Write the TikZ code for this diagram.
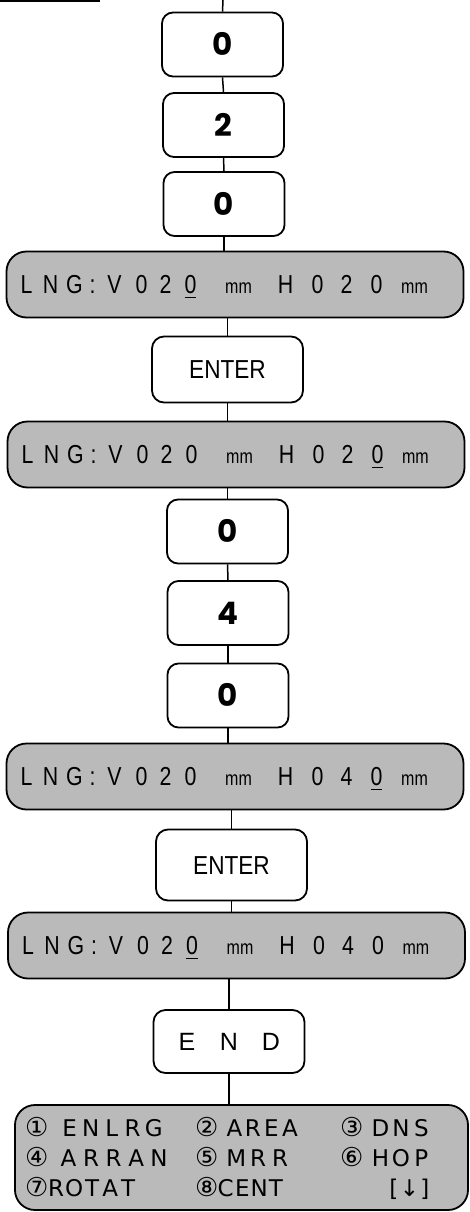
\documentclass[tikz,border=0pt]{standalone}
\usepackage{fontspec}
\setmainfont{Liberation Sans}
\newfontfamily\dejavu{DejaVu Sans}
\newfontfamily\pop{Poppins}
\definecolor{stip}{gray}{0.73}
\newsavebox\ubox
\newcommand\cc[1]{\makebox[0pt]{\scalebox{0.82}[1]{#1}}}
\newcommand\uu[1]{\sbox\ubox{#1}\usebox\ubox\llap{\rule[-4.5pt]{\wd\ubox}{1.6pt}}}
\newcommand\smm{\makebox[0pt]{\scalebox{0.8}[1]{\fontsize{20}{20}\selectfont mm}}}
\newcommand\lngline[6]{\makebox[457pt][l]{\hspace{20pt}\cc{L}\hspace{24pt}\cc{N}\hspace{24pt}\cc{G}\hspace{18pt}\cc{:}\hspace{22pt}\cc{V}\hspace{27pt}\cc{#1}\hspace{24pt}\cc{#2}\hspace{25pt}\cc{#3}\hspace{48pt}\smm\hspace{47pt}\cc{H}\hspace{32pt}\cc{#4}\hspace{29pt}\cc{#5}\hspace{30pt}\cc{#6}\hspace{38pt}\smm}}
\newcommand\spaced[2]{\def\spw{#1}\spacedi#2\relax}
\def\spacedi#1{\ifx#1\relax\else\makebox[\spw pt]{#1}\expandafter\spacedi\fi}
\begin{document}
\begin{tikzpicture}[x=1pt,y=-1pt,
  key/.style={draw, line width=1.8pt, rounded corners=11pt, minimum width=121pt,
    minimum height=64pt, inner sep=0pt, font=\pop\bfseries\fontsize{31}{31}\selectfont,
    text height=22pt, text depth=0pt},
  cmd/.style={draw, line width=1.8pt, rounded corners=12pt, minimum width=151pt,
    minimum height=66pt, inner sep=0pt, font=\fontsize{26}{26}\selectfont,
    text height=18.5pt, text depth=0pt},
  disp/.style={draw, line width=1.8pt, rounded corners=20pt, fill=stip,
    minimum width=457pt, minimum height=66pt, inner sep=0pt,
    text height=18.5pt, text depth=0pt, font=\fontsize{26}{26}\selectfont},
  circ/.style={anchor=base west, inner sep=0pt, font=\dejavu\fontsize{26}{26}\selectfont},
  word/.style={anchor=base west, inner sep=0pt, font=\dejavu\fontsize{23}{23}\selectfont},
  conn/.style={line width=1.5pt},
]
\useasboundingbox (0,0) rectangle (469,1212);
\fill[white] (0,0) rectangle (469,1212);

\coordinate (tl1) at (0,1);
\coordinate (tl2) at (100,1);
\draw[line width=2pt] (tl1) -- (tl2);
\coordinate (top) at (223,0);

\node[key] (k1) at (222.5,44.5) {0};
\node[key] (k2) at (223.5,125) {2};
\node[key] (k3) at (224,204) {0};
\node[disp] (l1) at (235,284.5) {\lngline{0}{2}{\uu{0}}{0}{2}{0}};
\node[cmd] (e1) at (227.5,369.5) {\scalebox{0.87}[1]{ENTER}};
\node[disp] (l2) at (236,454.5) {\lngline{0}{2}{0}{0}{2}{\uu{0}}};
\node[key] (k4) at (227.5,531.5) {0};
\node[key] (k5) at (228,613) {4};
\node[key] (k6) at (228,695.5) {0};
\node[disp] (l3) at (235,776.5) {\lngline{0}{2}{0}{0}{4}{\uu{0}}};
\node[cmd, minimum height=71pt] (e2) at (231.5,865) {\scalebox{0.87}[1]{ENTER}};
\node[disp] (l4) at (236.5,945.5) {\lngline{0}{2}{\uu{0}}{0}{4}{0}};
\node[cmd, minimum height=63pt, font=\fontsize{25}{25}\selectfont] (en) at (229,1041.5) {\makebox[42pt]{E}\makebox[42pt]{N}\makebox[42pt]{D}};
\node[draw, line width=1.8pt, rounded corners=20pt, fill=stip, minimum width=453pt,
  minimum height=105pt, inner sep=0pt] (menu) at (241.5,1157.5) {};

\node[circ] (c1) at (25,1136) {①};
\node[word] (w1) at (59,1136) {\spaced{21}{ENLRG}};
\node[circ] (c2) at (195,1136) {②};
\node[word] (w2) at (225,1136) {\spaced{18.5}{AREA}};
\node[circ] (c3) at (340,1136) {③};
\node[word] (w3) at (370,1136) {\spaced{20.5}{DNS}};
\node[circ] (c4) at (25,1166) {④};
\node[word] (w4) at (57,1166) {\spaced{22.6}{ARRAN}};
\node[circ] (c5) at (195,1166) {⑤};
\node[word] (w5) at (225,1166) {\spaced{22}{MRR}};
\node[circ] (c6) at (340,1166) {⑥};
\node[word] (w6) at (370,1166) {\spaced{20.5}{HOP}};
\node[circ] (c7) at (25,1196) {⑦};
\node[word] (w7) at (47,1196) {\spaced{18}{ROTAT}};
\node[circ] (c8) at (195,1196) {⑧};
\node[word] (w8) at (217,1196) {\spaced{16.8}{CENT}};
\node[word] (w9) at (386,1196) {\makebox[15.5pt]{[}\makebox[15.5pt]{↓}\makebox[15.5pt]{]}};

\draw[conn] (top) -- (k1.north);
\draw[conn] (k1.south) -- (k2.north);
\draw[conn] (k2.south) -- (k3.north);
\draw[conn] (k3.south) -- (l1.north -| k3.south);
\draw[conn] (l1.south -| e1.north) -- (e1.north);
\draw[conn] (e1.south) -- (l2.north -| e1.south);
\draw[conn] (l2.south -| k4.north) -- (k4.north);
\draw[conn] (k4.south) -- (k5.north);
\draw[conn] (k5.south) -- (k6.north);
\draw[conn] (k6.south) -- (l3.north -| k6.south);
\draw[conn] (l3.south -| e2.north) -- (e2.north);
\draw[conn] (e2.south) -- (l4.north -| e2.south);
\draw[conn] (l4.south -| en.north) -- (en.north);
\draw[conn] (en.south) -- (menu.north -| en.south);
\end{tikzpicture}
\end{document}
